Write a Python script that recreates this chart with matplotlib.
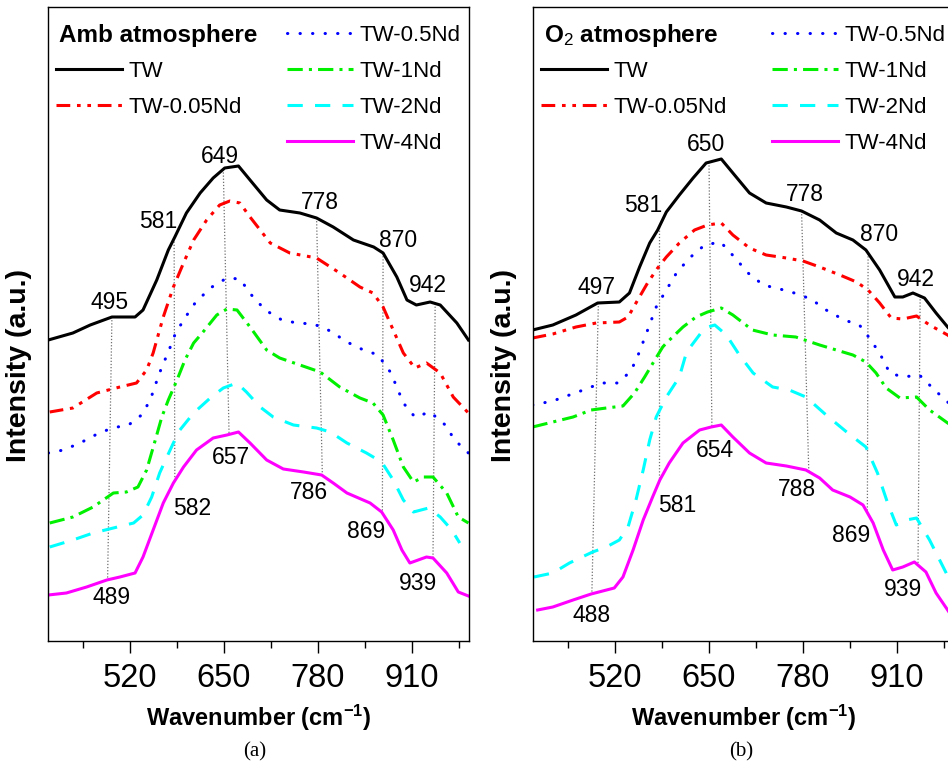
import matplotlib
matplotlib.use('Agg')
import matplotlib.pyplot as plt
import numpy as np
from matplotlib.lines import Line2D

plt.rcParams['font.family'] = ['Liberation Sans', 'DejaVu Sans']
plt.rcParams['mathtext.fontset'] = 'custom'
plt.rcParams['mathtext.rm'] = 'Liberation Sans'
plt.rcParams['mathtext.bf'] = 'Liberation Sans:bold'
plt.rcParams['mathtext.it'] = 'Liberation Sans:italic'

LABELS = ['TW', 'TW-0.05Nd', 'TW-0.5Nd', 'TW-1Nd', 'TW-2Nd', 'TW-4Nd']

# ---- (a) ambient atmosphere, stacked Raman spectra (a.u.) ----
amb_tw_x = [407, 441, 465, 495, 527, 538, 557, 573, 582, 598, 617, 635, 651, 670, 686,
            709, 727, 755, 778, 801, 829, 857, 870, 889, 903, 916, 935, 949, 972, 988]
amb_tw_y = [3.01, 3.08, 3.16, 3.24, 3.24, 3.31, 3.61, 3.91, 4.04, 4.28, 4.48, 4.63, 4.73, 4.75, 4.61,
            4.41, 4.31, 4.28, 4.23, 4.14, 4.01, 3.94, 3.88, 3.64, 3.41, 3.36, 3.39, 3.36, 3.18, 3.01]
amb_005_x = [409, 441, 474, 506, 529, 543, 552, 566, 580, 594, 608, 626, 644, 658, 672,
             686, 714, 741, 778, 810, 838, 856, 870, 884, 898, 914, 930, 949, 967, 988]
amb_005_y = [2.29, 2.33, 2.48, 2.54, 2.58, 2.71, 2.88, 3.24, 3.54, 3.78, 4.01, 4.21, 4.36, 4.40, 4.38,
             4.24, 3.98, 3.88, 3.83, 3.68, 3.54, 3.48, 3.34, 3.11, 2.88, 2.73, 2.78, 2.68, 2.44, 2.28]
amb_05_x = [407, 428, 451, 472, 495, 518, 536, 548, 556, 564, 573, 582, 594, 610, 631, 654, 672,
            688, 707, 730, 751, 774, 797, 820, 840, 863, 880, 889, 898, 914, 935, 956, 969, 988]
amb_05_y = [1.88, 1.91, 1.98, 2.06, 2.13, 2.16, 2.26, 2.41, 2.58, 2.74, 2.89, 3.06, 3.21, 3.38, 3.53, 3.63, 3.62,
            3.46, 3.31, 3.21, 3.18, 3.17, 3.10, 2.99, 2.92, 2.86, 2.69, 2.54, 2.38, 2.24, 2.29, 2.16, 2.01, 1.88]
amb_1_x = [409, 441, 469, 497, 515, 531, 543, 555, 564, 573, 585, 596, 608, 621, 640, 654, 668,
           686, 709, 727, 755, 783, 810, 838, 856, 870, 884, 898, 912, 926, 939, 958, 974, 988]
amb_1_y = [1.18, 1.24, 1.34, 1.48, 1.49, 1.54, 1.71, 2.01, 2.24, 2.41, 2.61, 2.81, 2.98, 3.09, 3.26, 3.32, 3.31,
           3.14, 2.91, 2.83, 2.76, 2.69, 2.54, 2.43, 2.38, 2.26, 2.01, 1.74, 1.59, 1.64, 1.64, 1.48, 1.24, 1.18]
amb_2_x = [409, 441, 469, 497, 525, 538, 550, 561, 571, 580, 589, 608, 631, 649, 668, 681,
           700, 718, 746, 778, 797, 820, 847, 868, 884, 898, 912, 933, 949, 965, 976]
amb_2_y = [0.94, 1.01, 1.08, 1.13, 1.18, 1.26, 1.44, 1.68, 1.84, 1.98, 2.11, 2.28, 2.43, 2.53, 2.58, 2.49,
           2.34, 2.24, 2.16, 2.13, 2.09, 1.98, 1.88, 1.79, 1.61, 1.41, 1.29, 1.33, 1.24, 1.11, 0.98]
amb_4_x = [407, 432, 460, 488, 506, 527, 538, 552, 566, 580, 594, 612, 635, 654, 670, 686,
           709, 732, 760, 785, 801, 820, 852, 868, 884, 896, 907, 930, 939, 958, 974, 988]
amb_4_y = [0.46, 0.48, 0.54, 0.61, 0.64, 0.68, 0.84, 1.11, 1.38, 1.58, 1.74, 1.91, 2.03, 2.06, 2.09, 1.98,
           1.81, 1.72, 1.69, 1.66, 1.58, 1.48, 1.38, 1.29, 1.11, 0.91, 0.78, 0.84, 0.83, 0.68, 0.49, 0.45]
amb_top_peaks = [495, 581, 649, 778, 870, 942]
amb_bot_peaks = [489, 582, 657, 786, 869, 939]

# ---- (b) O2 atmosphere ----
o2_tw_x = [406, 434, 466, 496, 526, 540, 554, 568, 579, 591, 609, 628, 646, 667, 683, 706,
           729, 757, 778, 803, 826, 849, 867, 886, 907, 918, 932, 948, 964, 980, 989]
o2_tw_y = [3.11, 3.16, 3.26, 3.38, 3.39, 3.48, 3.74, 3.98, 4.11, 4.29, 4.46, 4.63, 4.78, 4.82, 4.68, 4.48,
           4.38, 4.34, 4.30, 4.21, 4.08, 4.01, 3.91, 3.71, 3.44, 3.44, 3.48, 3.43, 3.28, 3.14, 3.07]
o2_005_x = [406, 434, 466, 494, 526, 538, 549, 565, 579, 591, 609, 630, 648, 667, 683,
            706, 729, 757, 780, 803, 831, 854, 870, 886, 902, 918, 937, 955, 980, 989]
o2_005_y = [3.03, 3.07, 3.14, 3.18, 3.19, 3.24, 3.38, 3.58, 3.73, 3.84, 3.98, 4.11, 4.16, 4.18, 4.06,
            3.93, 3.86, 3.83, 3.80, 3.74, 3.66, 3.59, 3.51, 3.38, 3.23, 3.22, 3.25, 3.16, 3.06, 3.01]
o2_05_x = [406, 434, 457, 480, 501, 524, 542, 552, 561, 577, 591, 605, 623, 644, 666, 685,
           704, 725, 748, 768, 791, 812, 837, 858, 874, 888, 900, 918, 941, 962, 980, 989]
o2_05_y = [2.36, 2.40, 2.46, 2.52, 2.58, 2.58, 2.70, 2.86, 3.03, 3.34, 3.51, 3.68, 3.83, 3.96, 3.99, 3.84,
           3.68, 3.56, 3.52, 3.48, 3.42, 3.31, 3.21, 3.16, 3.01, 2.85, 2.68, 2.64, 2.66, 2.51, 2.39, 2.33]
o2_1_x = [406, 434, 462, 487, 508, 531, 547, 561, 575, 586, 591, 614, 632, 648, 667,
          683, 710, 738, 770, 803, 826, 849, 867, 881, 895, 914, 937, 955, 980, 989]
o2_1_y = [2.14, 2.19, 2.24, 2.31, 2.33, 2.35, 2.48, 2.64, 2.81, 2.94, 2.98, 3.14, 3.24, 3.29, 3.33,
          3.26, 3.11, 3.06, 3.04, 2.96, 2.91, 2.86, 2.79, 2.68, 2.53, 2.43, 2.44, 2.31, 2.18, 2.14]
o2_2_x = [408, 434, 457, 489, 508, 526, 538, 549, 559, 568, 577, 591, 609, 619, 644, 658, 674,
          692, 711, 738, 761, 784, 812, 842, 867, 883, 897, 909, 923, 937, 955, 978, 989]
o2_2_y = [0.64, 0.68, 0.78, 0.89, 0.94, 1.01, 1.14, 1.41, 1.71, 2.01, 2.24, 2.44, 2.64, 2.89, 3.13, 3.16, 3.06,
          2.86, 2.68, 2.54, 2.51, 2.44, 2.26, 2.08, 1.94, 1.68, 1.38, 1.16, 1.21, 1.23, 1.01, 0.68, 0.51]
o2_4_x = [413, 434, 462, 487, 519, 531, 545, 559, 572, 582, 595, 614, 637, 653, 667, 683, 706,
          729, 757, 784, 803, 821, 845, 863, 877, 891, 904, 918, 934, 950, 964, 980, 989]
o2_4_y = [0.31, 0.34, 0.41, 0.47, 0.53, 0.64, 0.91, 1.21, 1.44, 1.61, 1.78, 1.98, 2.11, 2.14, 2.16, 2.04, 1.88,
          1.78, 1.75, 1.71, 1.63, 1.51, 1.44, 1.36, 1.18, 0.91, 0.71, 0.74, 0.79, 0.69, 0.48, 0.31, 0.21]
o2_top_peaks = [497, 581, 650, 778, 870, 942]
o2_bot_peaks = [488, 581, 654, 788, 869, 939]

COLORS = ['black', '#ff0000', '#0000ff', '#00f000', '#00ffff', '#ff00ff']
DASHES = ['-', (0, (4.5, 2.2, 1.2, 2.2, 1.2, 2.2)), (0, (0.1, 4)), (0, (5, 2, 1, 2)), (0, (5, 4)), '-']
LW = 2.2


def draw_panel(ax, xs, ys, top_peaks, bot_peaks, top_off, bot_off, title):
    handles = []
    for x, y, c, ls, lab in zip(xs, ys, COLORS, DASHES, LABELS):
        ln, = ax.plot(x, y, color=c, ls=ls, lw=LW, label=lab,
                      dash_capstyle='round' if lab == 'TW-0.5Nd' else 'butt')
        handles.append(ln)

    # dotted guides from the TW peaks down to the TW-4Nd peaks
    for pt, pb, ot, ob in zip(top_peaks, bot_peaks, top_off, bot_off):
        yt = np.interp(pt, xs[0], ys[0])
        yb = np.interp(pb, xs[-1], ys[-1])
        ax.plot([pt, pb], [yt, yb], color='#707070', lw=0.9, ls=(0, (1, 1.5)), zorder=1)
        ax.annotate(str(pt), (pt, yt), xytext=ot, textcoords='offset pixels',
                    ha='center', va='center', fontsize=16.5)
        ax.annotate(str(pb), (pb, yb), xytext=ob, textcoords='offset pixels',
                    ha='center', va='center', fontsize=16.5)

    blank = Line2D([], [], color='none')
    common = dict(frameon=False, fontsize=16, handlelength=2.97, handletextpad=0.3,
                  labelspacing=0.68, borderpad=0, borderaxespad=0, loc='upper left')
    leg1 = ax.legend([blank] + handles[:2], [''] + LABELS[:2],
                     bbox_to_anchor=(0.019, 0.972), **common)
    ax.add_artist(leg1)
    ax.legend(handles[2:], LABELS[2:], bbox_to_anchor=(0.568, 0.972), **common)
    ax.text(0.026, 0.955, title, transform=ax.transAxes, fontsize=17.5,
            fontweight='bold', ha='left', va='center')

    ax.set_xlim(406.6, 988.8)
    ax.set_ylim(0, 6.34)
    ax.set_xticks([520, 650, 780, 910])
    ax.set_xticks([455, 585, 715, 845, 975], minor=True)
    ax.set_yticks([])
    ax.tick_params(axis='x', which='major', length=8.6, width=1, labelsize=23.5, pad=7)
    ax.tick_params(axis='x', which='minor', length=5, width=1)
    for s in ax.spines.values():
        s.set_linewidth(1.0)
    ax.set_xlabel(r'Wavenumber (cm$^{\mathbf{-1}}$)', fontsize=17, fontweight='bold')
    ax.xaxis.set_label_coords(0.5, -0.097)
    ax.set_ylabel('Intensity (a.u.)', fontsize=20.5, fontweight='bold')
    ax.yaxis.set_label_coords(-0.037, 0.435)


fig = plt.figure(figsize=(9.48, 7.64), dpi=100)
ax_a = fig.add_axes([48 / 948, 123 / 764, 421 / 948, 634 / 764])
ax_b = fig.add_axes([533 / 948, 123 / 764, 421 / 948, 634 / 764])

draw_panel(ax_a,
           [amb_tw_x, amb_005_x, amb_05_x, amb_1_x, amb_2_x, amb_4_x],
           [amb_tw_y, amb_005_y, amb_05_y, amb_1_y, amb_2_y, amb_4_y],
           amb_top_peaks, amb_bot_peaks,
           [(-2, 15), (-16, 17), (-3, 13), (3, 16), (15, 13), (-7, 18)],
           [(4, -18), (17, -28), (2, -23), (-13, -17), (-16, -18), (-15, -25)],
           'Amb atmosphere')
draw_panel(ax_b,
           [o2_tw_x, o2_005_x, o2_05_x, o2_1_x, o2_2_x, o2_4_x],
           [o2_tw_y, o2_005_y, o2_05_y, o2_1_y, o2_2_y, o2_4_y],
           o2_top_peaks, o2_bot_peaks,
           [(-2, 15), (-16, 22), (-3, 18), (3, 17), (11, 19), (-4, 17)],
           [(0, -22), (18, -24), (3, -24), (-12, -18), (-16, -23), (-15, -24)],
           r'O$_{\mathrm{2}}$ atmosphere')

fig.text(255 / 948, 1 - 752 / 764, '(a)', family='Liberation Serif', fontsize=15,
         ha='center', va='center')
fig.text(741 / 948, 1 - 752 / 764, '(b)', family='Liberation Serif', fontsize=15,
         ha='center', va='center')

fig.savefig('out.png', dpi=100)
